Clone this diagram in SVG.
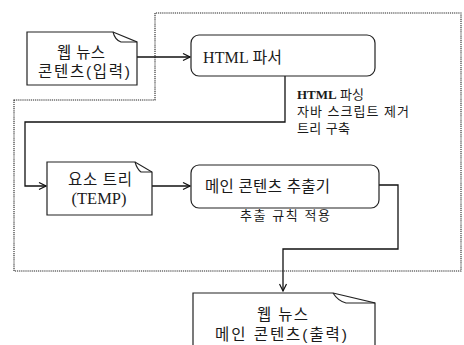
<svg xmlns="http://www.w3.org/2000/svg" width="464" height="345" viewBox="0 0 464 345">
<defs>
<marker id="arr" markerWidth="9" markerHeight="9" refX="8" refY="4.5" orient="auto" markerUnits="userSpaceOnUse">
<path d="M1,1 L8,4.5 L1,8" fill="none" stroke="#111" stroke-width="1.2"/>
</marker>
</defs>
<style>
.box{fill:#fff;stroke:#222;stroke-width:1.2}
.fold{fill:none;stroke:#222;stroke-width:1.1}
.ln{fill:none;stroke:#111;stroke-width:1.3}
.dot{fill:none;stroke:#222;stroke-width:1.1;stroke-dasharray:1.2 0.9}
.ko{font-family:"Liberation Sans","Noto Sans CJK KR",sans-serif;fill:#1a1a1a}
.se{font-family:"Liberation Serif","Noto Sans CJK KR",serif;fill:#1a1a1a}
</style>
<rect width="464" height="345" fill="#fff"/>
<g id="boundary">
<path class="dot" d="M14,100 H155 V13 H461 V271 H14 Z"/>
</g>
<g id="connectors">
<path class="ln" d="M137,57 H190" marker-end="url(#arr)"/>
<path class="ln" d="M285,76 V122 H25 V186 H46" marker-end="url(#arr)"/>
<path class="ln" d="M152,186 H190" marker-end="url(#arr)"/>
<path class="ln" d="M379,185 H398 V249 H283 V291" marker-end="url(#arr)"/>
</g>
<g id="input-doc">
<path class="box" d="M27,32 H113 L137,42 V85 H27 Z"/>
<path class="fold" d="M113,32 Q115,40 121,42 L137,42"/>
<text class="ko" x="57" y="58" font-size="15.5" textLength="48" lengthAdjust="spacing">웹 뉴스</text>
<text class="ko" x="38" y="77" font-size="15.5" textLength="92" lengthAdjust="spacing">콘텐츠(입력)</text>
</g>
<g id="html-parser">
<rect class="box" x="191" y="35" width="184" height="41" rx="8"/>
<text class="se" x="203" y="63" font-size="16" textLength="79" lengthAdjust="spacing">HTML 파서</text>
</g>
<g id="parser-notes">
<text class="se" x="297" y="99" font-size="13"><tspan font-weight="bold">HTML</tspan> 파싱</text>
<text class="ko" x="297" y="116" font-size="13" textLength="112" lengthAdjust="spacing">자바 스크립트 제거</text>
<text class="ko" x="297" y="133" font-size="13" textLength="53" lengthAdjust="spacing">트리 구축</text>
</g>
<g id="element-tree">
<path class="box" d="M47,162 H135 L152,172 V215 H47 Z"/>
<path class="fold" d="M135,162 Q137,169 141,172 L152,172"/>
<text class="ko" x="68" y="185" font-size="15.5" textLength="64" lengthAdjust="spacing">요소 트리</text>
<text class="se" x="99" y="204" font-size="16.5" text-anchor="middle">(TEMP)</text>
</g>
<g id="main-extractor">
<rect class="box" x="191" y="165" width="188" height="43" rx="8"/>
<text class="ko" x="205" y="192" font-size="15.5" textLength="125" lengthAdjust="spacing">메인 콘텐츠 추출기</text>
</g>
<g id="extract-note">
<text class="ko" x="240" y="220" font-size="13" textLength="90" lengthAdjust="spacing">추출 규칙 적용</text>
</g>
<g id="output-doc">
<path class="box" d="M193,293 H333 L375,303 V350 H193 Z"/>
<path class="fold" d="M333,293 Q338,301 346,303 L375,303"/>
<text class="ko" x="257" y="320" font-size="15.5" textLength="51" lengthAdjust="spacing">웹 뉴스</text>
<text class="ko" x="215" y="340" font-size="15.5" textLength="132" lengthAdjust="spacing">메인 콘텐츠(출력)</text>
</g>
</svg>
